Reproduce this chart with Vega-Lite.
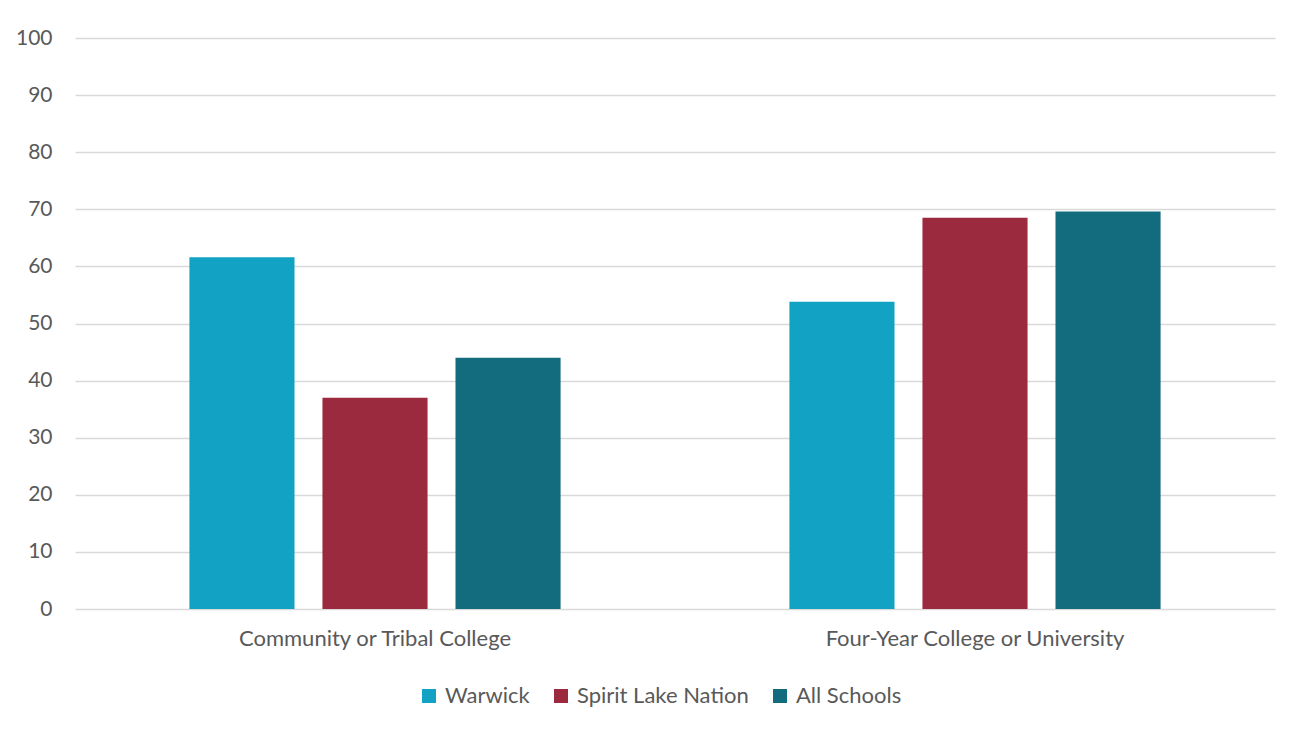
{
  "$schema": "https://vega.github.io/schema/vega-lite/v6.json",
  "width": 1200,
  "height": 571,
  "autosize": {"type": "none"},
  "padding": {"left": 75, "top": 38, "right": 32, "bottom": 129},
  "background": "#ffffff",
  "data": {
    "values": [
      {"type": "Community or Tribal College", "group": "Warwick", "value": 61.6},
      {"type": "Community or Tribal College", "group": "Spirit Lake Nation", "value": 37.0},
      {"type": "Community or Tribal College", "group": "All Schools", "value": 44.0},
      {"type": "Four-Year College or University", "group": "Warwick", "value": 53.8},
      {"type": "Four-Year College or University", "group": "Spirit Lake Nation", "value": 68.5},
      {"type": "Four-Year College or University", "group": "All Schools", "value": 69.6}
    ]
  },
  "mark": {"type": "bar"},
  "encoding": {
    "x": {
      "field": "type",
      "type": "nominal",
      "sort": null,
      "title": null,
      "scale": {"paddingInner": 0, "paddingOuter": 0},
      "axis": {
        "labelAngle": 0,
        "labelLimit": 0,
        "ticks": false,
        "domain": false,
        "labelPadding": 19,
        "labelFontSize": 22,
        "labelColor": "#595959",
        "labelFont": "Lato"
      }
    },
    "xOffset": {
      "field": "group",
      "type": "nominal",
      "sort": ["Warwick", "Spirit Lake Nation", "All Schools"],
      "scale": {"paddingInner": 0.21, "paddingOuter": 0.86}
    },
    "y": {
      "field": "value",
      "type": "quantitative",
      "title": null,
      "scale": {"domain": [0, 100], "nice": false},
      "axis": {
        "values": [0, 10, 20, 30, 40, 50, 60, 70, 80, 90, 100],
        "ticks": false,
        "domain": false,
        "labelPadding": 23,
        "labelFontSize": 21,
        "labelColor": "#595959",
        "labelFont": "Lato",
        "gridColor": "#D9D9D9",
        "gridWidth": 1.5
      }
    },
    "color": {
      "field": "group",
      "type": "nominal",
      "sort": ["Warwick", "Spirit Lake Nation", "All Schools"],
      "scale": {
        "domain": ["Warwick", "Spirit Lake Nation", "All Schools"],
        "range": ["#12A2C3", "#9C2A3E", "#136B7E"]
      },
      "legend": {
        "title": null,
        "orient": "none",
        "direction": "horizontal",
        "legendX": 343,
        "legendY": 647,
        "symbolType": "square",
        "symbolSize": 196,
        "symbolStrokeWidth": 0,
        "labelFontSize": 22,
        "labelFont": "Lato",
        "labelColor": "#595959",
        "labelLimit": 0,
        "labelOffset": 5,
        "columnPadding": 20,
        "padding": 0
      }
    }
  },
  "config": {
    "view": {"stroke": null},
    "axis": {"labelFont": "Lato"}
  }
}
